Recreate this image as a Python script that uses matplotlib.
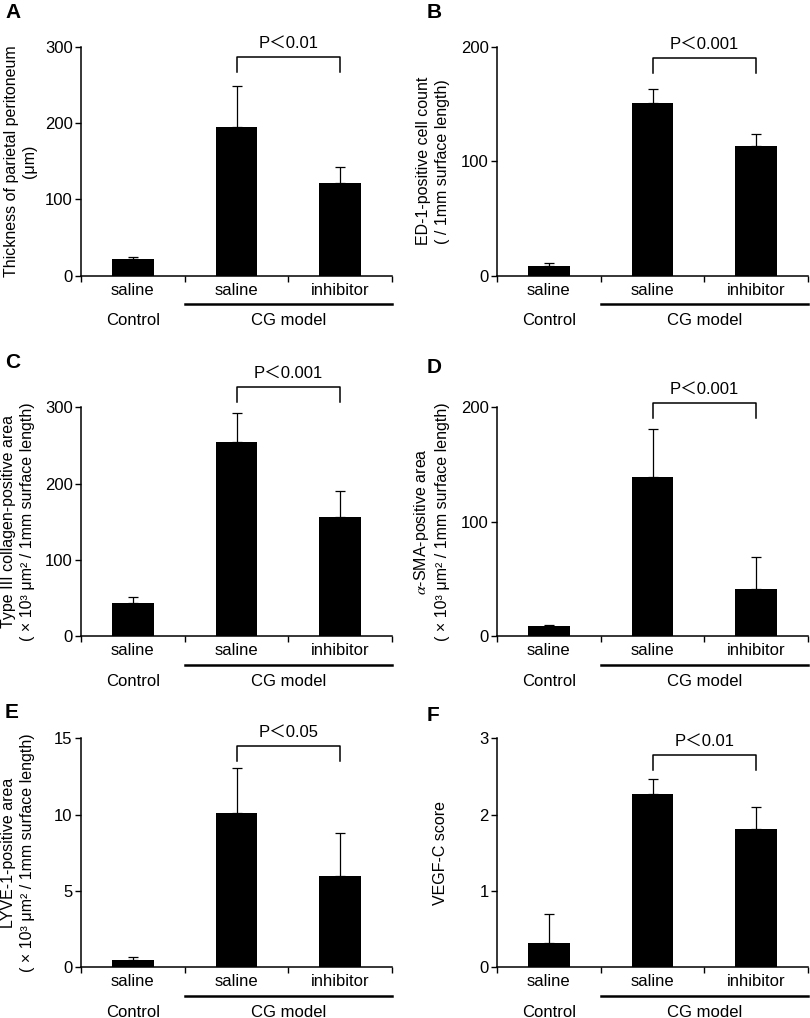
import matplotlib.pyplot as plt
import matplotlib.transforms as mtransforms

plt.rcParams['font.family'] = ['Liberation Sans', 'Noto Sans CJK JP']
plt.rcParams['mathtext.fontset'] = 'stix'
plt.rcParams['font.size'] = 12

groups = ['saline', 'saline', 'inhibitor']

thick_mean = [22, 195, 122]
thick_err = [3, 54, 21]
ed1_mean = [8.5, 151, 113]
ed1_err = [2.5, 12, 10.5]
col3_mean = [43, 254, 156]
col3_err = [9, 38, 34]
sma_mean = [9.3, 139, 41.4]
sma_err = [1, 42, 28]
lyve_mean = [0.5, 10.1, 6.0]
lyve_err = [0.18, 2.93, 2.8]
vegf_mean = [0.32, 2.27, 1.81]
vegf_err = [0.38, 0.2, 0.29]

p_labels = ['P＜0.01', 'P＜0.001', 'P＜0.001', 'P＜0.001', 'P＜0.05', 'P＜0.01']
bracket_top = [286, 190, 326, 204, 14.5, 2.78]

ylabels = ['Thickness of parietal peritoneum\n(μm)',
           'ED-1-positive cell count\n( / 1mm surface length)',
           'Type III collagen-positive area\n( × 10³ μm² / 1mm surface length)',
           '$\\alpha$-SMA-positive area\n( × 10³ μm² / 1mm surface length)',
           'LYVE-1-positive area\n( × 10³ μm² / 1mm surface length)',
           'VEGF-C score']
ymax = [300, 200, 300, 200, 15, 3]
ystep = [100, 100, 100, 100, 5, 1]
means = [thick_mean, ed1_mean, col3_mean, sma_mean, lyve_mean, vegf_mean]
errs = [thick_err, ed1_err, col3_err, sma_err, lyve_err, vegf_err]
letters = ['A', 'B', 'C', 'D', 'E', 'F']

W, H = 810, 1018
fig = plt.figure(figsize=(W / 100, H / 100), dpi=100)

col_x = [81, 497]
row_bottom = [275.7, 636.3, 967.3]
ax_w, ax_h = 311, 229
label_pos = [(5, 3), (427, 3), (5, 353), (427, 358), (5, 703), (427, 706)]
ylab_x = [-0.141, -0.151, -0.148, -0.151, -0.148, -0.158]

x = [1, 2, 3]
for i in range(6):
    r, c = divmod(i, 2)
    ax = fig.add_axes([col_x[c] / W, 1 - row_bottom[r] / H, ax_w / W, ax_h / H])
    ax.bar(x, means[i], width=0.4, color='black', zorder=2)
    ax.errorbar(x, means[i], yerr=[[0, 0, 0], errs[i]], fmt='none', ecolor='black',
                elinewidth=0.9, capsize=3.5, capthick=0.9, zorder=1)
    ax.set_xlim(0.5, 3.5)
    ax.set_ylim(0, ymax[i])
    ax.set_yticks([k * ystep[i] for k in range(int(ymax[i] / ystep[i]) + 1)])
    ax.set_xticks(x, groups)
    ax.set_xticks([0.5, 1.5, 2.5, 3.5], minor=True)
    ax.tick_params(axis='x', which='major', length=0, pad=5)
    ax.tick_params(axis='x', which='minor', length=4, width=1, direction='out')
    ax.tick_params(axis='y', length=4, width=1, direction='out', pad=2)
    for s in ['top', 'right']:
        ax.spines[s].set_visible(False)
    for s in ['left', 'bottom']:
        ax.spines[s].set_linewidth(1.1)
    ax.set_ylabel(ylabels[i], linespacing=1.3, fontsize=11.5)
    ax.yaxis.set_label_coords(ylab_x[i], 0.5)

    # group line and labels below the axis
    trans = mtransforms.blended_transform_factory(ax.transData, ax.transAxes)
    ax.plot([1.5, 3.5], [-0.124, -0.124], color='black', lw=1.8, transform=trans, clip_on=False)
    ax.text(1, -0.197, 'Control', ha='center', va='center', transform=trans)
    ax.text(2.5, -0.197, 'CG model', ha='center', va='center', transform=trans)

    # significance bracket
    top = bracket_top[i]
    leg = top - 0.065 * ymax[i]
    ax.plot([2, 2, 3, 3], [leg, top, top, leg], color='black', lw=1.1, clip_on=False)
    ax.annotate(p_labels[i], xy=(2.5, top), xytext=(0, 10), textcoords='offset points',
                ha='center', va='center', annotation_clip=False)

    lx, ly = label_pos[i]
    fig.text(lx / W, 1 - ly / H, letters[i], ha='left', va='top', fontsize=15, fontweight='bold')

fig.savefig('out.png', dpi=100)
